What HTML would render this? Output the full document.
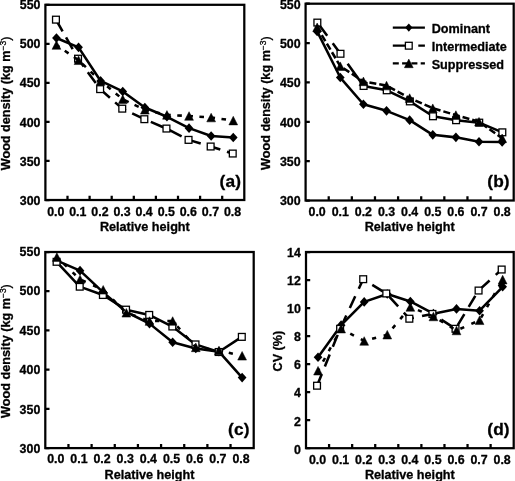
<!DOCTYPE html>
<html><head><meta charset="utf-8"><title>Wood density vs relative height</title>
<style>html,body{margin:0;padding:0;background:#fff}body{width:515px;height:481px;overflow:hidden;font-family:"Liberation Sans",sans-serif}svg text{fill:#000;stroke:#000;stroke-width:.3px;stroke-linejoin:round}</style>
</head><body>
<svg width="515" height="481" viewBox="0 0 515 481" style="display:block">
<defs><filter id="soft" x="0" y="0" width="515" height="481" filterUnits="userSpaceOnUse"><feGaussianBlur stdDeviation="0.35"/></filter></defs>
<rect width="515" height="481" fill="#fff"/>
<g filter="url(#soft)">
<g id="panel-a">
<rect x="45.4" y="4.8" width="198.9" height="195.2" fill="none" stroke="#000" stroke-width="2.25"/>
<path d="M67.5 200V195.8M89.6 200V195.8M111.7 200V195.8M133.8 200V195.8M155.9 200V195.8M178 200V195.8M200.1 200V195.8M222.2 200V195.8M45.4 200H49.6M45.4 160.96H49.6M45.4 121.92H49.6M45.4 82.88H49.6M45.4 43.84H49.6M45.4 4.8H49.6" stroke="#000" stroke-width="2.25" fill="none"/>
<text x="40.5" y="204.9" text-anchor="end" font-size="12.4" font-family="Liberation Sans, sans-serif" font-weight="bold">300</text>
<text x="40.5" y="165.74" text-anchor="end" font-size="12.4" font-family="Liberation Sans, sans-serif" font-weight="bold">350</text>
<text x="40.5" y="126.58" text-anchor="end" font-size="12.4" font-family="Liberation Sans, sans-serif" font-weight="bold">400</text>
<text x="40.5" y="87.42" text-anchor="end" font-size="12.4" font-family="Liberation Sans, sans-serif" font-weight="bold">450</text>
<text x="40.5" y="48.26" text-anchor="end" font-size="12.4" font-family="Liberation Sans, sans-serif" font-weight="bold">500</text>
<text x="40.5" y="9.1" text-anchor="end" font-size="12.4" font-family="Liberation Sans, sans-serif" font-weight="bold">550</text>
<text x="55.75" y="215.8" text-anchor="middle" font-size="12.4" font-family="Liberation Sans, sans-serif" font-weight="bold">0.0</text>
<text x="77.85" y="215.8" text-anchor="middle" font-size="12.4" font-family="Liberation Sans, sans-serif" font-weight="bold">0.1</text>
<text x="99.95" y="215.8" text-anchor="middle" font-size="12.4" font-family="Liberation Sans, sans-serif" font-weight="bold">0.2</text>
<text x="122.05" y="215.8" text-anchor="middle" font-size="12.4" font-family="Liberation Sans, sans-serif" font-weight="bold">0.3</text>
<text x="144.15" y="215.8" text-anchor="middle" font-size="12.4" font-family="Liberation Sans, sans-serif" font-weight="bold">0.4</text>
<text x="166.25" y="215.8" text-anchor="middle" font-size="12.4" font-family="Liberation Sans, sans-serif" font-weight="bold">0.5</text>
<text x="188.35" y="215.8" text-anchor="middle" font-size="12.4" font-family="Liberation Sans, sans-serif" font-weight="bold">0.6</text>
<text x="210.45" y="215.8" text-anchor="middle" font-size="12.4" font-family="Liberation Sans, sans-serif" font-weight="bold">0.7</text>
<text x="232.55" y="215.8" text-anchor="middle" font-size="12.4" font-family="Liberation Sans, sans-serif" font-weight="bold">0.8</text>
<text x="144.85" y="231.2" text-anchor="middle" font-size="12.65" font-family="Liberation Sans, sans-serif" font-weight="bold">Relative height</text>
<text transform="translate(10 103.4) rotate(-90)" text-anchor="middle" font-size="12.65" font-family="Liberation Sans, sans-serif" font-weight="bold">Wood density (kg m<tspan font-size="8.5" font-weight="normal" dy="-4.5">−3</tspan><tspan dy="4.5" font-weight="normal">)</tspan></text>
<text x="230.4" y="187" text-anchor="middle" font-size="17.3" letter-spacing="0.15" font-family="Liberation Sans, sans-serif" font-weight="bold">(a)</text>
<path d="M56.45 37.98L78.55 47.35L100.65 80.93L122.75 91.47L144.85 107.48L166.95 116.77L189.05 128.17L211.15 135.97L233.25 137.54" fill="none" stroke="#000" stroke-width="2.55" stroke-linejoin="round"/>
<path d="M52.1 37.98L56.45 33.18L60.8 37.98L56.45 42.78Z" fill="#000"/>
<path d="M74.2 47.35L78.55 42.55L82.9 47.35L78.55 52.15Z" fill="#000"/>
<path d="M96.3 80.93L100.65 76.13L105 80.93L100.65 85.73Z" fill="#000"/>
<path d="M118.4 91.47L122.75 86.67L127.1 91.47L122.75 96.27Z" fill="#000"/>
<path d="M140.5 107.48L144.85 102.68L149.2 107.48L144.85 112.28Z" fill="#000"/>
<path d="M162.6 116.77L166.95 111.97L171.3 116.77L166.95 121.57Z" fill="#000"/>
<path d="M184.7 128.17L189.05 123.37L193.4 128.17L189.05 132.97Z" fill="#000"/>
<path d="M206.8 135.97L211.15 131.17L215.5 135.97L211.15 140.77Z" fill="#000"/>
<path d="M228.9 137.54L233.25 132.74L237.6 137.54L233.25 142.34Z" fill="#000"/>
<path d="M55.95 19.64L78.05 58.68L100.15 89.13L122.25 108.65L144.35 119.19L166.45 128.56L188.55 139.88L210.65 146.52L232.75 153.54" fill="none" stroke="#000" stroke-width="2.55" stroke-linejoin="round" stroke-dasharray="13.5 7" stroke-dashoffset="0"/>
<rect x="52.55" y="16.24" width="6.8" height="6.8" fill="#fff" stroke="#000" stroke-width="1.3"/>
<rect x="74.65" y="55.28" width="6.8" height="6.8" fill="#fff" stroke="#000" stroke-width="1.3"/>
<rect x="96.75" y="85.73" width="6.8" height="6.8" fill="#fff" stroke="#000" stroke-width="1.3"/>
<rect x="118.85" y="105.25" width="6.8" height="6.8" fill="#fff" stroke="#000" stroke-width="1.3"/>
<rect x="140.95" y="115.79" width="6.8" height="6.8" fill="#fff" stroke="#000" stroke-width="1.3"/>
<rect x="163.05" y="125.16" width="6.8" height="6.8" fill="#fff" stroke="#000" stroke-width="1.3"/>
<rect x="185.15" y="136.48" width="6.8" height="6.8" fill="#fff" stroke="#000" stroke-width="1.3"/>
<rect x="207.25" y="143.12" width="6.8" height="6.8" fill="#fff" stroke="#000" stroke-width="1.3"/>
<rect x="229.35" y="150.14" width="6.8" height="6.8" fill="#fff" stroke="#000" stroke-width="1.3"/>
<path d="M56.45 45.01L78.55 60.24L100.65 80.93L122.75 99.28L144.85 109.82L166.95 114.89L189.05 115.99L211.15 117.55L233.25 120.59" fill="none" stroke="#000" stroke-width="2.55" stroke-linejoin="round" stroke-dasharray="4.6 6.5" stroke-dashoffset="1"/>
<path d="M52.05 49.31L56.45 40.71L60.85 49.31Z" fill="#000" stroke="#000" stroke-width="0.5" stroke-linejoin="round"/>
<path d="M74.15 64.54L78.55 55.94L82.95 64.54Z" fill="#000" stroke="#000" stroke-width="0.5" stroke-linejoin="round"/>
<path d="M96.25 85.23L100.65 76.63L105.05 85.23Z" fill="#000" stroke="#000" stroke-width="0.5" stroke-linejoin="round"/>
<path d="M118.35 103.58L122.75 94.98L127.15 103.58Z" fill="#000" stroke="#000" stroke-width="0.5" stroke-linejoin="round"/>
<path d="M140.45 114.12L144.85 105.52L149.25 114.12Z" fill="#000" stroke="#000" stroke-width="0.5" stroke-linejoin="round"/>
<path d="M162.55 119.19L166.95 110.59L171.35 119.19Z" fill="#000" stroke="#000" stroke-width="0.5" stroke-linejoin="round"/>
<path d="M184.65 120.29L189.05 111.69L193.45 120.29Z" fill="#000" stroke="#000" stroke-width="0.5" stroke-linejoin="round"/>
<path d="M206.75 121.85L211.15 113.25L215.55 121.85Z" fill="#000" stroke="#000" stroke-width="0.5" stroke-linejoin="round"/>
<path d="M228.85 124.89L233.25 116.29L237.65 124.89Z" fill="#000" stroke="#000" stroke-width="0.5" stroke-linejoin="round"/>
</g>
<g id="panel-b">
<rect x="305.6" y="3.7" width="208.1" height="196.8" fill="none" stroke="#000" stroke-width="2.25"/>
<path d="M328.72 200.5V196.3M351.84 200.5V196.3M374.97 200.5V196.3M398.09 200.5V196.3M421.21 200.5V196.3M444.33 200.5V196.3M467.46 200.5V196.3M490.58 200.5V196.3M305.6 200.5H309.8M305.6 161.14H309.8M305.6 121.78H309.8M305.6 82.42H309.8M305.6 43.06H309.8M305.6 3.7H309.8" stroke="#000" stroke-width="2.25" fill="none"/>
<text x="300.6" y="204.9" text-anchor="end" font-size="12.4" font-family="Liberation Sans, sans-serif" font-weight="bold">300</text>
<text x="300.6" y="165.74" text-anchor="end" font-size="12.4" font-family="Liberation Sans, sans-serif" font-weight="bold">350</text>
<text x="300.6" y="126.58" text-anchor="end" font-size="12.4" font-family="Liberation Sans, sans-serif" font-weight="bold">400</text>
<text x="300.6" y="87.42" text-anchor="end" font-size="12.4" font-family="Liberation Sans, sans-serif" font-weight="bold">450</text>
<text x="300.6" y="48.26" text-anchor="end" font-size="12.4" font-family="Liberation Sans, sans-serif" font-weight="bold">500</text>
<text x="300.6" y="9.1" text-anchor="end" font-size="12.4" font-family="Liberation Sans, sans-serif" font-weight="bold">550</text>
<text x="317.16" y="215.8" text-anchor="middle" font-size="12.4" font-family="Liberation Sans, sans-serif" font-weight="bold">0.0</text>
<text x="340.28" y="215.8" text-anchor="middle" font-size="12.4" font-family="Liberation Sans, sans-serif" font-weight="bold">0.1</text>
<text x="363.41" y="215.8" text-anchor="middle" font-size="12.4" font-family="Liberation Sans, sans-serif" font-weight="bold">0.2</text>
<text x="386.53" y="215.8" text-anchor="middle" font-size="12.4" font-family="Liberation Sans, sans-serif" font-weight="bold">0.3</text>
<text x="409.65" y="215.8" text-anchor="middle" font-size="12.4" font-family="Liberation Sans, sans-serif" font-weight="bold">0.4</text>
<text x="432.77" y="215.8" text-anchor="middle" font-size="12.4" font-family="Liberation Sans, sans-serif" font-weight="bold">0.5</text>
<text x="455.89" y="215.8" text-anchor="middle" font-size="12.4" font-family="Liberation Sans, sans-serif" font-weight="bold">0.6</text>
<text x="479.02" y="215.8" text-anchor="middle" font-size="12.4" font-family="Liberation Sans, sans-serif" font-weight="bold">0.7</text>
<text x="502.14" y="215.8" text-anchor="middle" font-size="12.4" font-family="Liberation Sans, sans-serif" font-weight="bold">0.8</text>
<text x="409.65" y="231.2" text-anchor="middle" font-size="12.65" font-family="Liberation Sans, sans-serif" font-weight="bold">Relative height</text>
<text transform="translate(270 103.1) rotate(-90)" text-anchor="middle" font-size="12.65" font-family="Liberation Sans, sans-serif" font-weight="bold">Wood density (kg m<tspan font-size="8.5" font-weight="normal" dy="-4.5">−3</tspan><tspan dy="4.5" font-weight="normal">)</tspan></text>
<text x="498.5" y="187" text-anchor="middle" font-size="17.3" letter-spacing="0.15" font-family="Liberation Sans, sans-serif" font-weight="bold">(b)</text>
<path d="M317.16 31.41L340.28 77.54L363.41 104.23L386.53 110.84L409.65 120.13L432.77 134.85L455.89 137.37L479.02 141.7L502.14 142.01" fill="none" stroke="#000" stroke-width="2.55" stroke-linejoin="round"/>
<path d="M312.81 31.41L317.16 26.61L321.51 31.41L317.16 36.21Z" fill="#000"/>
<path d="M335.93 77.54L340.28 72.74L344.63 77.54L340.28 82.34Z" fill="#000"/>
<path d="M359.06 104.23L363.41 99.43L367.76 104.23L363.41 109.03Z" fill="#000"/>
<path d="M382.18 110.84L386.53 106.04L390.88 110.84L386.53 115.64Z" fill="#000"/>
<path d="M405.3 120.13L409.65 115.33L414 120.13L409.65 124.93Z" fill="#000"/>
<path d="M428.42 134.85L432.77 130.05L437.12 134.85L432.77 139.65Z" fill="#000"/>
<path d="M451.54 137.37L455.89 132.57L460.24 137.37L455.89 142.17Z" fill="#000"/>
<path d="M474.67 141.7L479.02 136.9L483.37 141.7L479.02 146.5Z" fill="#000"/>
<path d="M497.79 142.01L502.14 137.21L506.49 142.01L502.14 146.81Z" fill="#000"/>
<path d="M317.36 22.59L340.48 53.77L363.61 85.96L386.73 90.29L409.85 101.39L432.97 116.27L456.09 120.21L479.22 122.65L502.34 132.33" fill="none" stroke="#000" stroke-width="2.55" stroke-linejoin="round" stroke-dasharray="16.5 9.3 16 9.3 1000 1" stroke-dashoffset="0"/>
<rect x="313.96" y="19.19" width="6.8" height="6.8" fill="#fff" stroke="#000" stroke-width="1.3"/>
<rect x="337.08" y="50.37" width="6.8" height="6.8" fill="#fff" stroke="#000" stroke-width="1.3"/>
<rect x="360.21" y="82.56" width="6.8" height="6.8" fill="#fff" stroke="#000" stroke-width="1.3"/>
<rect x="383.33" y="86.89" width="6.8" height="6.8" fill="#fff" stroke="#000" stroke-width="1.3"/>
<rect x="406.45" y="97.99" width="6.8" height="6.8" fill="#fff" stroke="#000" stroke-width="1.3"/>
<rect x="429.57" y="112.87" width="6.8" height="6.8" fill="#fff" stroke="#000" stroke-width="1.3"/>
<rect x="452.69" y="116.81" width="6.8" height="6.8" fill="#fff" stroke="#000" stroke-width="1.3"/>
<rect x="475.82" y="119.25" width="6.8" height="6.8" fill="#fff" stroke="#000" stroke-width="1.3"/>
<rect x="498.94" y="128.93" width="6.8" height="6.8" fill="#fff" stroke="#000" stroke-width="1.3"/>
<path d="M317.16 27.32L340.28 66.2L363.41 81.4L386.53 85.57L409.65 98.09L432.77 108.24L455.89 115.09L479.02 121.7L502.14 138.31" fill="none" stroke="#000" stroke-width="2.55" stroke-linejoin="round" stroke-dasharray="7 3" stroke-dashoffset="1"/>
<path d="M312.76 31.62L317.16 23.02L321.56 31.62Z" fill="#000" stroke="#000" stroke-width="0.5" stroke-linejoin="round"/>
<path d="M335.88 70.5L340.28 61.9L344.68 70.5Z" fill="#000" stroke="#000" stroke-width="0.5" stroke-linejoin="round"/>
<path d="M359.01 85.7L363.41 77.1L367.81 85.7Z" fill="#000" stroke="#000" stroke-width="0.5" stroke-linejoin="round"/>
<path d="M382.13 89.87L386.53 81.27L390.93 89.87Z" fill="#000" stroke="#000" stroke-width="0.5" stroke-linejoin="round"/>
<path d="M405.25 102.39L409.65 93.79L414.05 102.39Z" fill="#000" stroke="#000" stroke-width="0.5" stroke-linejoin="round"/>
<path d="M428.37 112.54L432.77 103.94L437.17 112.54Z" fill="#000" stroke="#000" stroke-width="0.5" stroke-linejoin="round"/>
<path d="M451.49 119.39L455.89 110.79L460.29 119.39Z" fill="#000" stroke="#000" stroke-width="0.5" stroke-linejoin="round"/>
<path d="M474.62 126L479.02 117.4L483.42 126Z" fill="#000" stroke="#000" stroke-width="0.5" stroke-linejoin="round"/>
<path d="M497.74 142.61L502.14 134.01L506.54 142.61Z" fill="#000" stroke="#000" stroke-width="0.5" stroke-linejoin="round"/>
</g>
<g id="panel-c">
<rect x="45.3" y="252" width="208.4" height="196.1" fill="none" stroke="#000" stroke-width="2.25"/>
<path d="M68.46 448.1V443.9M91.61 448.1V443.9M114.77 448.1V443.9M137.92 448.1V443.9M161.08 448.1V443.9M184.23 448.1V443.9M207.39 448.1V443.9M230.54 448.1V443.9M45.3 448.1H49.5M45.3 408.88H49.5M45.3 369.66H49.5M45.3 330.44H49.5M45.3 291.22H49.5M45.3 252H49.5" stroke="#000" stroke-width="2.25" fill="none"/>
<text x="40.3" y="453.3" text-anchor="end" font-size="12.4" font-family="Liberation Sans, sans-serif" font-weight="bold">300</text>
<text x="40.3" y="413.78" text-anchor="end" font-size="12.4" font-family="Liberation Sans, sans-serif" font-weight="bold">350</text>
<text x="40.3" y="374.26" text-anchor="end" font-size="12.4" font-family="Liberation Sans, sans-serif" font-weight="bold">400</text>
<text x="40.3" y="334.74" text-anchor="end" font-size="12.4" font-family="Liberation Sans, sans-serif" font-weight="bold">450</text>
<text x="40.3" y="295.22" text-anchor="end" font-size="12.4" font-family="Liberation Sans, sans-serif" font-weight="bold">500</text>
<text x="40.3" y="255.7" text-anchor="end" font-size="12.4" font-family="Liberation Sans, sans-serif" font-weight="bold">550</text>
<text x="55.78" y="463.3" text-anchor="middle" font-size="12.4" font-family="Liberation Sans, sans-serif" font-weight="bold">0.0</text>
<text x="78.93" y="463.3" text-anchor="middle" font-size="12.4" font-family="Liberation Sans, sans-serif" font-weight="bold">0.1</text>
<text x="102.09" y="463.3" text-anchor="middle" font-size="12.4" font-family="Liberation Sans, sans-serif" font-weight="bold">0.2</text>
<text x="125.24" y="463.3" text-anchor="middle" font-size="12.4" font-family="Liberation Sans, sans-serif" font-weight="bold">0.3</text>
<text x="148.4" y="463.3" text-anchor="middle" font-size="12.4" font-family="Liberation Sans, sans-serif" font-weight="bold">0.4</text>
<text x="171.56" y="463.3" text-anchor="middle" font-size="12.4" font-family="Liberation Sans, sans-serif" font-weight="bold">0.5</text>
<text x="194.71" y="463.3" text-anchor="middle" font-size="12.4" font-family="Liberation Sans, sans-serif" font-weight="bold">0.6</text>
<text x="217.87" y="463.3" text-anchor="middle" font-size="12.4" font-family="Liberation Sans, sans-serif" font-weight="bold">0.7</text>
<text x="241.02" y="463.3" text-anchor="middle" font-size="12.4" font-family="Liberation Sans, sans-serif" font-weight="bold">0.8</text>
<text x="149.5" y="478.8" text-anchor="middle" font-size="12.65" font-family="Liberation Sans, sans-serif" font-weight="bold">Relative height</text>
<text transform="translate(10 351.05) rotate(-90)" text-anchor="middle" font-size="12.65" font-family="Liberation Sans, sans-serif" font-weight="bold">Wood density (kg m<tspan font-size="8.5" font-weight="normal" dy="-4.5">−3</tspan><tspan dy="4.5" font-weight="normal">)</tspan></text>
<text x="238.9" y="435.2" text-anchor="middle" font-size="17.3" letter-spacing="0.15" font-family="Liberation Sans, sans-serif" font-weight="bold">(c)</text>
<path d="M56.88 260.63L80.03 270.67L103.19 292.4L126.34 312.01L149.5 323.62L172.66 342.21L195.81 348.48L218.97 351.62L242.12 377.58" fill="none" stroke="#000" stroke-width="2.55" stroke-linejoin="round"/>
<path d="M52.53 260.63L56.88 255.83L61.23 260.63L56.88 265.43Z" fill="#000"/>
<path d="M75.68 270.67L80.03 265.87L84.38 270.67L80.03 275.47Z" fill="#000"/>
<path d="M98.84 292.4L103.19 287.6L107.54 292.4L103.19 297.2Z" fill="#000"/>
<path d="M121.99 312.01L126.34 307.21L130.69 312.01L126.34 316.81Z" fill="#000"/>
<path d="M145.15 323.62L149.5 318.82L153.85 323.62L149.5 328.42Z" fill="#000"/>
<path d="M168.31 342.21L172.66 337.41L177.01 342.21L172.66 347.01Z" fill="#000"/>
<path d="M191.46 348.48L195.81 343.68L200.16 348.48L195.81 353.28Z" fill="#000"/>
<path d="M214.62 351.62L218.97 346.82L223.32 351.62L218.97 356.42Z" fill="#000"/>
<path d="M237.77 377.58L242.12 372.78L246.47 377.58L242.12 382.38Z" fill="#000"/>
<path d="M56.58 261.81L79.73 286.67L102.89 294.99L126.04 309.65L149.2 314.91L172.36 326.52L195.51 344.4L218.67 352.01L241.82 336.87" fill="none" stroke="#000" stroke-width="2.55" stroke-linejoin="round"/>
<rect x="53.18" y="258.41" width="6.8" height="6.8" fill="#fff" stroke="#000" stroke-width="1.3"/>
<rect x="76.33" y="283.27" width="6.8" height="6.8" fill="#fff" stroke="#000" stroke-width="1.3"/>
<rect x="99.49" y="291.59" width="6.8" height="6.8" fill="#fff" stroke="#000" stroke-width="1.3"/>
<rect x="122.64" y="306.25" width="6.8" height="6.8" fill="#fff" stroke="#000" stroke-width="1.3"/>
<rect x="145.8" y="311.51" width="6.8" height="6.8" fill="#fff" stroke="#000" stroke-width="1.3"/>
<rect x="168.96" y="323.12" width="6.8" height="6.8" fill="#fff" stroke="#000" stroke-width="1.3"/>
<rect x="192.11" y="341" width="6.8" height="6.8" fill="#fff" stroke="#000" stroke-width="1.3"/>
<rect x="215.27" y="348.61" width="6.8" height="6.8" fill="#fff" stroke="#000" stroke-width="1.3"/>
<rect x="238.42" y="333.47" width="6.8" height="6.8" fill="#fff" stroke="#000" stroke-width="1.3"/>
<path d="M56.88 257.1L80.03 279.45L103.19 289.81L126.34 312.79L149.5 321.03L172.66 321.03L195.81 347.38L218.97 350.44L242.12 355.78" fill="none" stroke="#000" stroke-width="2.55" stroke-linejoin="round" stroke-dasharray="4.2 8.1" stroke-dashoffset="2.7"/>
<path d="M52.48 261.4L56.88 252.8L61.28 261.4Z" fill="#000" stroke="#000" stroke-width="0.5" stroke-linejoin="round"/>
<path d="M75.63 283.75L80.03 275.15L84.43 283.75Z" fill="#000" stroke="#000" stroke-width="0.5" stroke-linejoin="round"/>
<path d="M98.79 294.11L103.19 285.51L107.59 294.11Z" fill="#000" stroke="#000" stroke-width="0.5" stroke-linejoin="round"/>
<path d="M121.94 317.09L126.34 308.49L130.74 317.09Z" fill="#000" stroke="#000" stroke-width="0.5" stroke-linejoin="round"/>
<path d="M145.1 325.33L149.5 316.73L153.9 325.33Z" fill="#000" stroke="#000" stroke-width="0.5" stroke-linejoin="round"/>
<path d="M168.26 325.33L172.66 316.73L177.06 325.33Z" fill="#000" stroke="#000" stroke-width="0.5" stroke-linejoin="round"/>
<path d="M191.41 351.68L195.81 343.08L200.21 351.68Z" fill="#000" stroke="#000" stroke-width="0.5" stroke-linejoin="round"/>
<path d="M214.57 354.74L218.97 346.14L223.37 354.74Z" fill="#000" stroke="#000" stroke-width="0.5" stroke-linejoin="round"/>
<path d="M237.72 360.08L242.12 351.48L246.52 360.08Z" fill="#000" stroke="#000" stroke-width="0.5" stroke-linejoin="round"/>
</g>
<g id="panel-d">
<rect x="306" y="252" width="207.7" height="196.2" fill="none" stroke="#000" stroke-width="2.25"/>
<path d="M329.08 448.2V444M352.16 448.2V444M375.23 448.2V444M398.31 448.2V444M421.39 448.2V444M444.47 448.2V444M467.54 448.2V444M490.62 448.2V444M306 448.2H310.2M306 420.17H310.2M306 392.14H310.2M306 364.11H310.2M306 336.09H310.2M306 308.06H310.2M306 280.03H310.2M306 252H310.2" stroke="#000" stroke-width="2.25" fill="none"/>
<text x="300.8" y="453.65" text-anchor="end" font-size="12.4" font-family="Liberation Sans, sans-serif" font-weight="bold">0</text>
<text x="300.8" y="425.5" text-anchor="end" font-size="12.4" font-family="Liberation Sans, sans-serif" font-weight="bold">2</text>
<text x="300.8" y="397.35" text-anchor="end" font-size="12.4" font-family="Liberation Sans, sans-serif" font-weight="bold">4</text>
<text x="300.8" y="369.2" text-anchor="end" font-size="12.4" font-family="Liberation Sans, sans-serif" font-weight="bold">6</text>
<text x="300.8" y="341.05" text-anchor="end" font-size="12.4" font-family="Liberation Sans, sans-serif" font-weight="bold">8</text>
<text x="300.8" y="312.9" text-anchor="end" font-size="12.4" font-family="Liberation Sans, sans-serif" font-weight="bold">10</text>
<text x="300.8" y="284.75" text-anchor="end" font-size="12.4" font-family="Liberation Sans, sans-serif" font-weight="bold">12</text>
<text x="300.8" y="256.6" text-anchor="end" font-size="12.4" font-family="Liberation Sans, sans-serif" font-weight="bold">14</text>
<text x="317.54" y="463.8" text-anchor="middle" font-size="12.4" font-family="Liberation Sans, sans-serif" font-weight="bold">0.0</text>
<text x="340.62" y="463.8" text-anchor="middle" font-size="12.4" font-family="Liberation Sans, sans-serif" font-weight="bold">0.1</text>
<text x="363.69" y="463.8" text-anchor="middle" font-size="12.4" font-family="Liberation Sans, sans-serif" font-weight="bold">0.2</text>
<text x="386.77" y="463.8" text-anchor="middle" font-size="12.4" font-family="Liberation Sans, sans-serif" font-weight="bold">0.3</text>
<text x="409.85" y="463.8" text-anchor="middle" font-size="12.4" font-family="Liberation Sans, sans-serif" font-weight="bold">0.4</text>
<text x="432.93" y="463.8" text-anchor="middle" font-size="12.4" font-family="Liberation Sans, sans-serif" font-weight="bold">0.5</text>
<text x="456.01" y="463.8" text-anchor="middle" font-size="12.4" font-family="Liberation Sans, sans-serif" font-weight="bold">0.6</text>
<text x="479.08" y="463.8" text-anchor="middle" font-size="12.4" font-family="Liberation Sans, sans-serif" font-weight="bold">0.7</text>
<text x="502.16" y="463.8" text-anchor="middle" font-size="12.4" font-family="Liberation Sans, sans-serif" font-weight="bold">0.8</text>
<text x="409.85" y="478.8" text-anchor="middle" font-size="12.65" font-family="Liberation Sans, sans-serif" font-weight="bold">Relative height</text>
<text transform="translate(282 351.1) rotate(-90)" text-anchor="middle" font-size="12.65" font-family="Liberation Sans, sans-serif" font-weight="bold">CV (%)</text>
<text x="498.5" y="435.4" text-anchor="middle" font-size="17.3" letter-spacing="0.15" font-family="Liberation Sans, sans-serif" font-weight="bold">(d)</text>
<path d="M318.04 357.25L341.12 325.15L364.19 301.89L387.27 294.04L410.35 301.47L433.43 313.66L456.51 308.9L479.58 310.72L502.66 286.76" fill="none" stroke="#000" stroke-width="2.55" stroke-linejoin="round"/>
<path d="M313.69 357.25L318.04 352.45L322.39 357.25L318.04 362.05Z" fill="#000"/>
<path d="M336.77 325.15L341.12 320.35L345.47 325.15L341.12 329.95Z" fill="#000"/>
<path d="M359.84 301.89L364.19 297.09L368.54 301.89L364.19 306.69Z" fill="#000"/>
<path d="M382.92 294.04L387.27 289.24L391.62 294.04L387.27 298.84Z" fill="#000"/>
<path d="M406 301.47L410.35 296.67L414.7 301.47L410.35 306.27Z" fill="#000"/>
<path d="M429.08 313.66L433.43 308.86L437.78 313.66L433.43 318.46Z" fill="#000"/>
<path d="M452.16 308.9L456.51 304.1L460.86 308.9L456.51 313.7Z" fill="#000"/>
<path d="M475.23 310.72L479.58 305.92L483.93 310.72L479.58 315.52Z" fill="#000"/>
<path d="M498.31 286.76L502.66 281.96L507.01 286.76L502.66 291.56Z" fill="#000"/>
<path d="M317.04 385.7L340.12 328.8L363.19 279.19L386.27 293.48L409.35 318.71L432.43 313.94L455.51 328.8L478.58 290.54L501.66 269.52" fill="none" stroke="#000" stroke-width="2.55" stroke-linejoin="round" stroke-dasharray="12.85 8.35" stroke-dashoffset="0.4"/>
<rect x="313.64" y="382.3" width="6.8" height="6.8" fill="#fff" stroke="#000" stroke-width="1.3"/>
<rect x="336.72" y="325.4" width="6.8" height="6.8" fill="#fff" stroke="#000" stroke-width="1.3"/>
<rect x="359.79" y="275.79" width="6.8" height="6.8" fill="#fff" stroke="#000" stroke-width="1.3"/>
<rect x="382.87" y="290.08" width="6.8" height="6.8" fill="#fff" stroke="#000" stroke-width="1.3"/>
<rect x="405.95" y="315.31" width="6.8" height="6.8" fill="#fff" stroke="#000" stroke-width="1.3"/>
<rect x="429.03" y="310.54" width="6.8" height="6.8" fill="#fff" stroke="#000" stroke-width="1.3"/>
<rect x="452.11" y="325.4" width="6.8" height="6.8" fill="#fff" stroke="#000" stroke-width="1.3"/>
<rect x="475.18" y="287.14" width="6.8" height="6.8" fill="#fff" stroke="#000" stroke-width="1.3"/>
<rect x="498.26" y="266.12" width="6.8" height="6.8" fill="#fff" stroke="#000" stroke-width="1.3"/>
<path d="M318.04 370.7L341.12 328.66L364.19 340.99L387.27 334.68L410.35 306.94L433.43 316.47L456.51 330.48L479.58 320.25L502.66 279.61" fill="none" stroke="#000" stroke-width="2.55" stroke-linejoin="round" stroke-dasharray="4.2 7.8" stroke-dashoffset="1.7"/>
<path d="M313.64 375L318.04 366.4L322.44 375Z" fill="#000" stroke="#000" stroke-width="0.5" stroke-linejoin="round"/>
<path d="M336.72 332.96L341.12 324.36L345.52 332.96Z" fill="#000" stroke="#000" stroke-width="0.5" stroke-linejoin="round"/>
<path d="M359.79 345.29L364.19 336.69L368.59 345.29Z" fill="#000" stroke="#000" stroke-width="0.5" stroke-linejoin="round"/>
<path d="M382.87 338.98L387.27 330.38L391.67 338.98Z" fill="#000" stroke="#000" stroke-width="0.5" stroke-linejoin="round"/>
<path d="M405.95 311.24L410.35 302.64L414.75 311.24Z" fill="#000" stroke="#000" stroke-width="0.5" stroke-linejoin="round"/>
<path d="M429.03 320.77L433.43 312.17L437.83 320.77Z" fill="#000" stroke="#000" stroke-width="0.5" stroke-linejoin="round"/>
<path d="M452.11 334.78L456.51 326.18L460.91 334.78Z" fill="#000" stroke="#000" stroke-width="0.5" stroke-linejoin="round"/>
<path d="M475.18 324.55L479.58 315.95L483.98 324.55Z" fill="#000" stroke="#000" stroke-width="0.5" stroke-linejoin="round"/>
<path d="M498.26 283.91L502.66 275.31L507.06 283.91Z" fill="#000" stroke="#000" stroke-width="0.5" stroke-linejoin="round"/>
</g>
<g id="legend"><path d="M392.8 27.6H424.9" stroke="#000" stroke-width="2.25"/>
<path d="M405.2 27.6L408.8 23.5L412.4 27.6L408.8 31.7Z" fill="#000"/>
<text x="431.7" y="32.9" font-size="12.65" font-family="Liberation Sans, sans-serif" font-weight="bold">Dominant</text>
<path d="M392.8 45.7H408.8M418.3 45.7H424.9" stroke="#000" stroke-width="2.25"/>
<rect x="405.4" y="42.3" width="6.8" height="6.8" fill="#fff" stroke="#000" stroke-width="1.3"/>
<text x="431.7" y="51" font-size="12.65" font-family="Liberation Sans, sans-serif" font-weight="bold">Intermediate</text>
<path d="M392.8 63.4H424.9" stroke="#000" stroke-width="2.25" stroke-dasharray="6 3.3"/>
<path d="M404.4 67.7L408.8 59.1L413.2 67.7Z" fill="#000" stroke="#000" stroke-width="0.5" stroke-linejoin="round"/>
<text x="431.7" y="68.7" font-size="12.65" font-family="Liberation Sans, sans-serif" font-weight="bold">Suppressed</text></g>
</g></svg>
</body></html>
